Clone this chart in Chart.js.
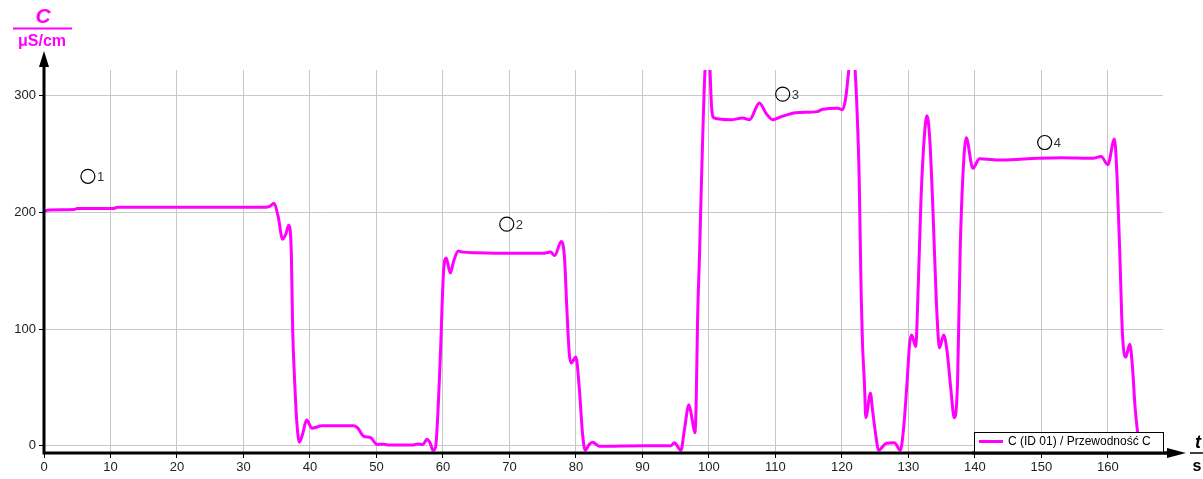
<!DOCTYPE html>
<html>
<head>
<meta charset="utf-8">
<script src="https://cdn.jsdelivr.net/npm/chart.js@4/dist/chart.umd.min.js"></script>
<style>
html,body{margin:0;padding:0;background:#fff;}
#wrap{width:1203px;height:479px;}
</style>
</head>
<body>
<div id="wrap"><canvas id="c" width="1203" height="479"></canvas></div>
<script>
// ---- data ----
const times = [0,0.5,4.5,5,10.5,11,20,30,33.3,34,34.6,35.2,35.9,36.4,36.8,37.2,37.4,37.7,38.0,38.4,38.9,39.5,40.3,41.8,46.6,47.2,48.1,49.1,50.1,51.1,52,55.6,56.2,57,57.6,58.1,58.5,58.9,59.3,59.6,60.1,60.5,61.1,61.6,62.3,63,65,70,75,76.2,76.8,77.8,78.3,78.6,79.0,79.3,80.0,80.5,81.0,81.4,82.0,82.5,83.5,90,94.3,94.8,95.8,96.3,97.0,97.5,97.9,98.1,98.3,98.6,98.9,99.4,99.8,100.1,100.4,100.8,103.3,105.1,106.1,107.6,108.6,109.6,110.8,113.1,116.3,117.1,119.4,120.1,120.6,121.1,121.5,121.9,122.4,122.6,122.9,123.1,123.4,123.6,124.3,124.6,125.2,125.5,126.7,127.9,128.8,129.3,129.8,130.2,130.5,131.1,131.5,131.9,132.4,132.8,133.2,133.7,134.2,134.7,135.3,135.8,136.4,136.9,137.4,137.8,138.2,138.7,139.7,140.7,144,149.5,153,157.8,159.0,160.0,161.0,161.4,161.8,162.2,162.7,163.3,163.7,164.1,164.5];
const conductivity = [201,202,202.5,203.5,203.5,204.5,204.5,204.5,204.5,205.5,208,197,177,182,189,165,100,55,22,3,10,22,15,17,17,15,8,7,1,1.2,0.5,0.5,1.5,1,5.5,2,-4,-1,35,75,150,161,148,158,167,166,165.5,165,165,166,163,175,160,122,79,71,76,50,10,-4,1,3,-0.5,0,0,2.5,-4,13,35,22,11,40,108,165,230,320,340,330,291,281,279.5,281,279.5,294,285,279.5,282,285.5,286.5,288.5,289.5,288,299,325,340,330,270,231,131,88,53,24,45,31,5,-4,2,2.5,-4,16,54,88,95,85,139,211,265,283,265,202,125,84,95,82,48,24,54,168,231,264,238,246,245,246.5,247,246.5,248,241,263,229,165,96,76,87,68,33,10];
const xTicks = [0,10,20,30,40,50,60,70,80,90,100,110,120,130,140,150,160];
const yTicks = [0,100,200,300];
const markerX = [6.6, 69.6, 111.1, 150.5];
const markerY = [231, 190, 301.5, 260];
const markerLabels = ['1','2','3','4'];
const seriesName = 'C (ID 01) / Przewodność C';
const yTitleTop = 'C';
const yTitleUnit = 'μS/cm';
const xTitleTop = 't';
const xTitleUnit = 's';

const MAG = '#ff00ff';
const FONT = '"Liberation Sans", Arial, sans-serif';

const lineData = times.map((t,i)=>({x:t,y:conductivity[i]}));
const markerData = markerX.map((x,i)=>({x:x,y:markerY[i]}));

const overlay = {
  id:'overlay',
  afterDatasetsDraw(chart){
    const ctx = chart.ctx;
    const a = chart.chartArea;
    const xs = chart.scales.x, ys = chart.scales.y;
    ctx.save();
    // axes
    ctx.strokeStyle = '#000';
    ctx.lineWidth = 3;
    ctx.beginPath();
    ctx.moveTo(a.left, a.bottom); ctx.lineTo(a.left, 62);
    ctx.moveTo(a.left-1.5, a.bottom); ctx.lineTo(1172, a.bottom);
    ctx.stroke();
    ctx.fillStyle = '#000';
    ctx.beginPath();
    ctx.moveTo(a.left, 51); ctx.lineTo(a.left-5, 67); ctx.lineTo(a.left+5, 67); ctx.closePath(); ctx.fill();
    ctx.beginPath();
    ctx.moveTo(1186, a.bottom); ctx.lineTo(1167, a.bottom-5); ctx.lineTo(1167, a.bottom+5); ctx.closePath(); ctx.fill();
    // marker labels
    ctx.font = '13px ' + FONT;
    ctx.fillStyle = '#333';
    ctx.textBaseline = 'middle';
    ctx.textAlign = 'left';
    markerX.forEach((mx,i)=>{
      ctx.fillText(markerLabels[i], xs.getPixelForValue(mx)+9, ys.getPixelForValue(markerY[i])+1);
    });
    // legend box
    const lx = 974, ly = 432, lw = 189, lh = 21;
    ctx.fillStyle = '#fff';
    ctx.fillRect(lx, ly, lw, lh);
    ctx.strokeStyle = '#000';
    ctx.lineWidth = 1;
    ctx.strokeRect(lx+0.5, ly+0.5, lw, lh);
    ctx.strokeStyle = MAG;
    ctx.lineWidth = 3;
    ctx.beginPath(); ctx.moveTo(979, 441.5); ctx.lineTo(1003, 441.5); ctx.stroke();
    ctx.fillStyle = '#000';
    ctx.font = '12px ' + FONT;
    ctx.fillText(seriesName, 1008, 442);
    // redraw x axis line over legend bottom
    ctx.strokeStyle = '#000';
    ctx.lineWidth = 3;
    ctx.beginPath(); ctx.moveTo(lx-2, a.bottom); ctx.lineTo(1172, a.bottom); ctx.stroke();
    // y title
    ctx.fillStyle = MAG;
    ctx.textAlign = 'center';
    ctx.font = 'italic bold 21px ' + FONT;
    ctx.fillText(yTitleTop, 43, 17);
    ctx.strokeStyle = MAG;
    ctx.lineWidth = 2;
    ctx.beginPath(); ctx.moveTo(13, 28.5); ctx.lineTo(72, 28.5); ctx.stroke();
    ctx.font = 'bold 16px ' + FONT;
    ctx.fillText(yTitleUnit, 42, 42);
    // x title
    ctx.fillStyle = '#000';
    ctx.font = 'italic bold 18px ' + FONT;
    ctx.fillText(xTitleTop, 1198, 443);
    ctx.strokeStyle = '#000';
    ctx.lineWidth = 1.5;
    ctx.beginPath(); ctx.moveTo(1190, 453); ctx.lineTo(1203, 453); ctx.stroke();
    ctx.font = 'bold 16px ' + FONT;
    ctx.fillText(xTitleUnit, 1197, 467);
    ctx.restore();
  }
};

new Chart(document.getElementById('c'), {
  type:'line',
  data:{
    datasets:[
      {
        label: seriesName,
        data: lineData,
        borderColor: MAG,
        backgroundColor: MAG,
        borderWidth: 3,
        pointRadius: 0,
        cubicInterpolationMode: 'monotone',
        fill: false,
        order: 2
      },
      {
        label: 'markers',
        data: markerData,
        showLine: false,
        pointStyle: 'circle',
        pointRadius: 7,
        pointBorderWidth: 1.2,
        pointBorderColor: '#000',
        pointBackgroundColor: 'rgba(0,0,0,0)',
        order: 1
      }
    ]
  },
  options:{
    responsive:false,
    animation:false,
    devicePixelRatio:1,
    layout:{padding:{left:0, top:70, right:40, bottom:0}},
    plugins:{legend:{display:false}, tooltip:{enabled:false}, title:{display:false}},
    scales:{
      x:{
        type:'linear', min:0, max:168.3,
        afterBuildTicks(s){ s.ticks = xTicks.map(v=>({value:v})); },
        afterFit(s){ s.height = 26; },
        grid:{color:'#c8c8c8', lineWidth:1, drawTicks:true, tickLength:5, tickColor:'#000'},
        border:{display:false},
        ticks:{color:'#222', font:{family:FONT, size:13}, padding:2, maxRotation:0, autoSkip:false}
      },
      y:{
        type:'linear', min:-6.3, max:322.2,
        afterBuildTicks(s){ s.ticks = yTicks.map(v=>({value:v})); },
        afterFit(s){ s.width = 44; },
        grid:{color:'#c8c8c8', lineWidth:1, drawTicks:true, tickLength:5, tickColor:'#000'},
        border:{display:false},
        ticks:{color:'#222', font:{family:FONT, size:13}, padding:3}
      }
    }
  },
  plugins:[overlay]
});
</script>
</body>
</html>
